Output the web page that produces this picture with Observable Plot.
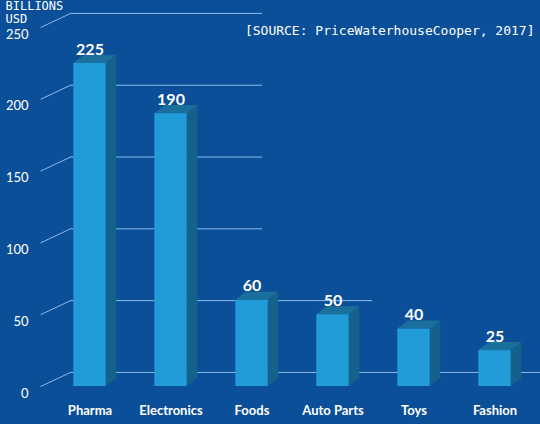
<!DOCTYPE html>
<html>
<head>
<meta charset="utf-8">
<script src="https://cdn.jsdelivr.net/npm/d3@7"></script>
<script src="https://cdn.jsdelivr.net/npm/@observablehq/plot@0.6"></script>
<style>
  body { margin: 0; background: #0b4f98; }
</style>
</head>
<body>
<div id="chart"></div>
<script>
const categories = ["Pharma", "Electronics", "Foods", "Auto Parts", "Toys", "Fashion"];
const values = [225, 190, 60, 50, 40, 25];
const yTicks = [0, 50, 100, 150, 200, 250];
const unitLabel = "BILLIONS\nUSD";
const sourceLabel = "[SOURCE: PriceWaterhouseCooper, 2017]";

const data = categories.map((c, i) => ({category: c, i: i, value: values[i]}));

// fake 3d: sizes in scale units (x = category index, y = value)
const half = 0.2;                  // half the width of a bar front
const depthX = 0.13, depthY = 5.6; // bar depth
const wallX = -0.24, wallDX = 0.37, wallDY = 9.8; // back wall offset
// the back wall lines stop at different places in the original
const gridStop = v => v === 0 ? 5.6 : v === 50 ? 3.49 : 2.13;

const sideFaces = data.flatMap(d => [
  {category: d.category, x: d.i + half, y1: 0, y2: d.value},
  {category: d.category, x: d.i + half + depthX, y1: depthY, y2: d.value + depthY}
]);
const topFaces = data.flatMap(d => [
  {category: d.category, y: d.value, x1: d.i - half, x2: d.i + half},
  {category: d.category, y: d.value + depthY, x1: d.i - half + depthX, x2: d.i + half + depthX}
]);

const gridColor = "#8dbbea";

let chart = Plot.plot({
  width: 540,
  height: 424,
  marginLeft: 30,
  marginRight: 0,
  marginTop: 27,
  marginBottom: 38,
  style: {background: "#0b4f98", color: "white", fontFamily: "Lato", overflow: "visible"},
  x: {type: "linear", domain: [-0.7346, 5.5617], axis: null},
  y: {domain: [0, 250], axis: null},
  marks: [
    Plot.link(yTicks, {x1: wallX - wallDX, x2: wallX, y1: d => d, y2: d => d + wallDY, stroke: gridColor}),
    Plot.ruleY(yTicks, {y: d => d + wallDY, x1: wallX, x2: gridStop, stroke: gridColor}),
    Plot.areaY(sideFaces, {x: "x", y1: "y1", y2: "y2", z: "category", fill: "#14628c"}),
    Plot.areaX(topFaces, {y: "y", x1: "x1", x2: "x2", z: "category", fill: "#1a6f9c"}),
    Plot.rectY(data, {x1: d => d.i - half, x2: d => d.i + half, y1: 0, y2: "value", fill: "#229bd9"}),
    Plot.text(data, {x: "i", y: "value", text: d => String(d.value), dy: -14,
      fill: "white", fontFamily: "Lato", fontWeight: "bold", fontSize: 16}),
    Plot.axisY({ticks: yTicks, tickSize: 0, tickPadding: 2, dy: 7, label: null,
      fontFamily: "Lato", fontSize: 13}),
    Plot.axisX({ticks: d3.range(categories.length), tickFormat: i => categories[i], tickSize: 0,
      tickPadding: 19, label: null, fontFamily: "Lato", fontWeight: "bold", fontSize: 13}),
    Plot.text([unitLabel], {text: d => d, frameAnchor: "top-left", dx: -25, dy: -26,
      textAnchor: "start", lineAnchor: "top", lineHeight: 1.05,
      fill: "white", fontFamily: "DejaVu Sans Mono", fontSize: 12}),
    Plot.text([sourceLabel], {text: d => d, frameAnchor: "top-right", dx: -6, dy: -2,
      textAnchor: "end", fill: "white", fontFamily: "DejaVu Sans Mono", fontSize: 13})
  ]
});

d3.select("#chart").append(() => chart);
</script>
</body>
</html>
